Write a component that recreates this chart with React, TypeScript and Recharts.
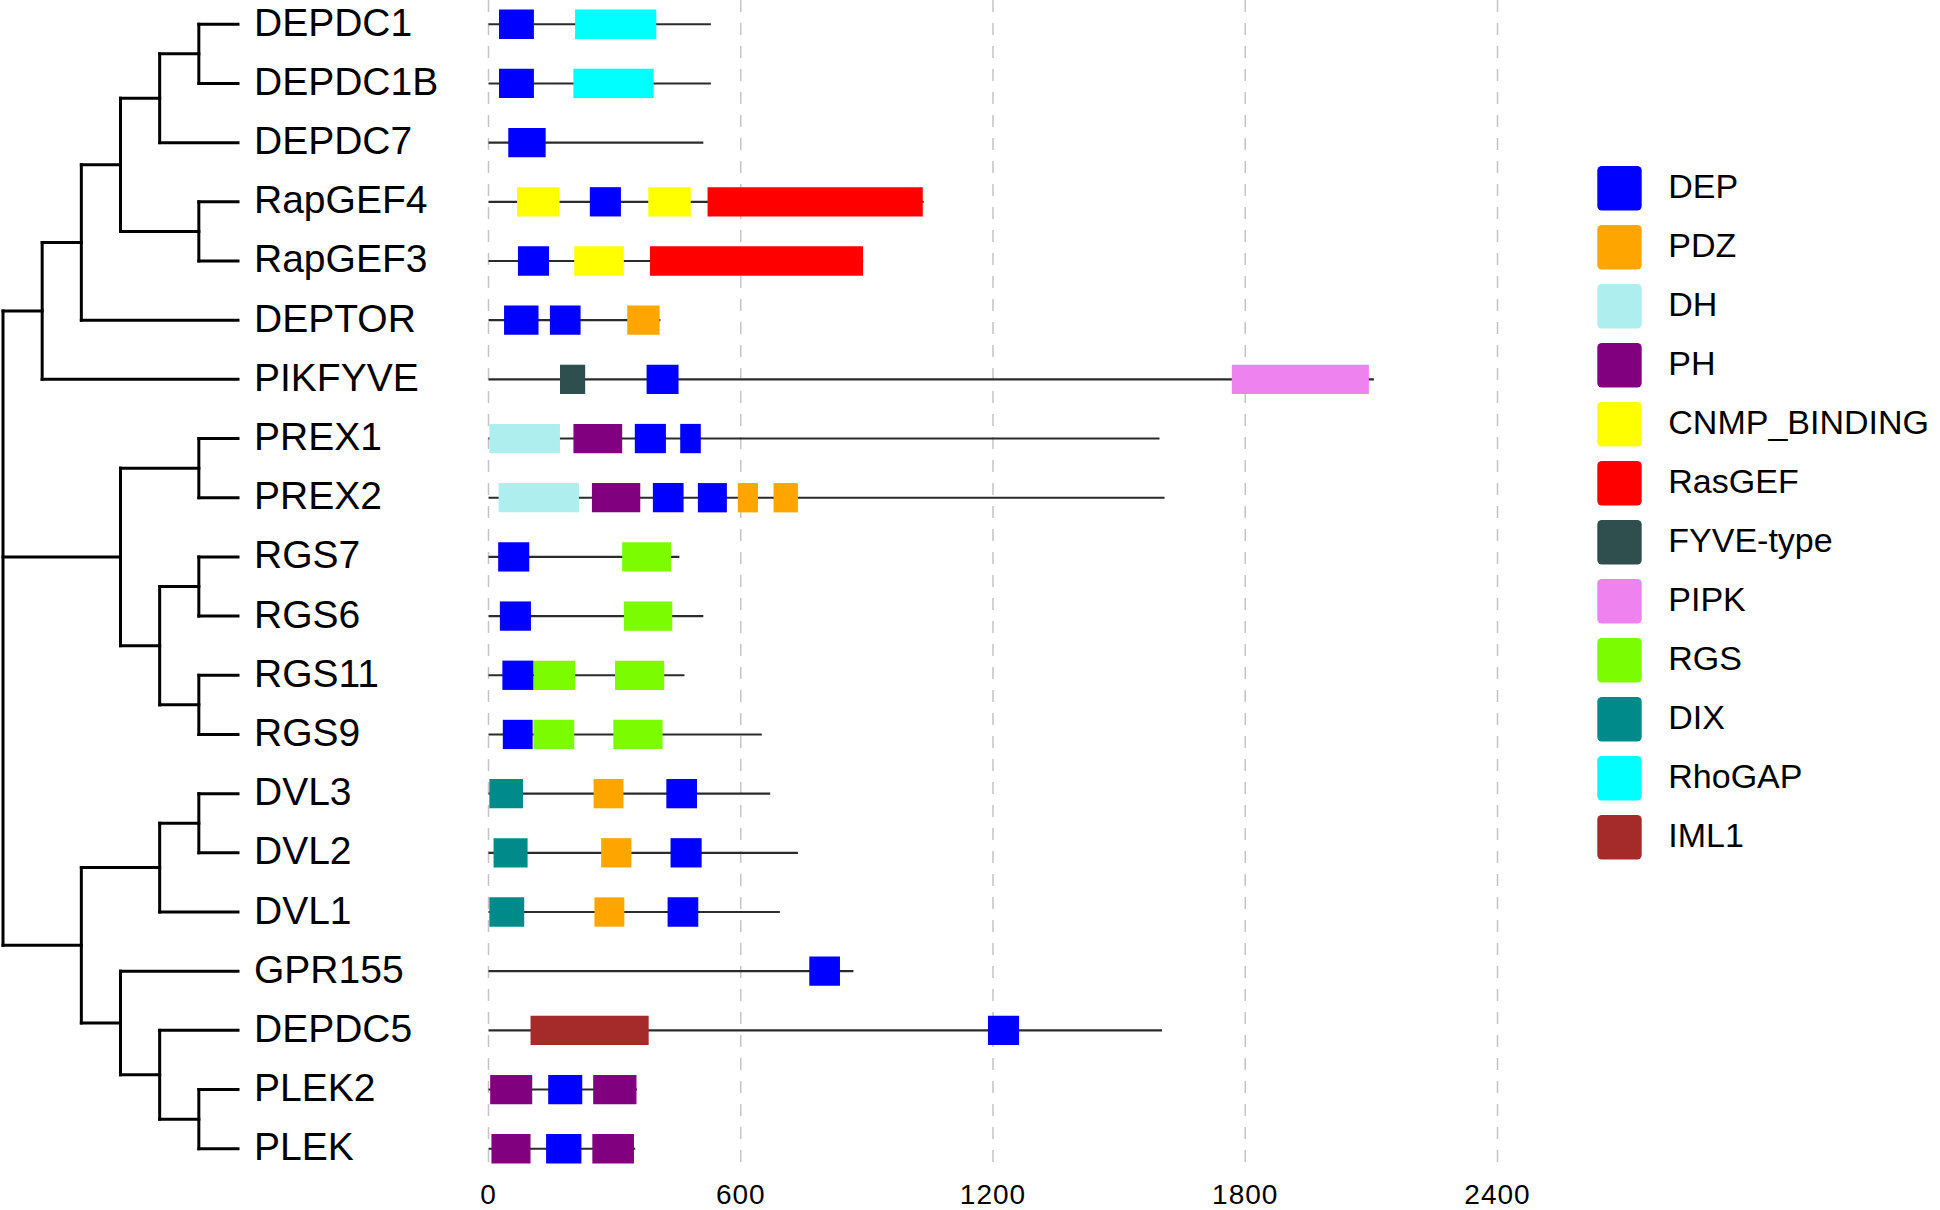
import React from 'react';
import {
  ComposedChart,
  XAxis,
  YAxis,
  CartesianGrid,
  ReferenceLine,
  ReferenceArea,
  Legend,
} from 'recharts';

// ---------------- data ----------------
const proteins = [
  'DEPDC1', 'DEPDC1B', 'DEPDC7', 'RapGEF4', 'RapGEF3', 'DEPTOR', 'PIKFYVE',
  'PREX1', 'PREX2', 'RGS7', 'RGS6', 'RGS11', 'RGS9', 'DVL3', 'DVL2', 'DVL1',
  'GPR155', 'DEPDC5', 'PLEK2', 'PLEK',
];
const proteinLengths = [
  529, 529, 511, 1035, 891, 409, 2106, 1596, 1608, 454, 511, 466, 650, 670,
  736, 693, 868, 1602, 353, 349,
];

const domainTypes = [
  'DEP', 'PDZ', 'DH', 'PH', 'CNMP_BINDING', 'RasGEF', 'FYVE-type', 'PIPK',
  'RGS', 'DIX', 'RhoGAP', 'IML1',
];
const domainColors = [
  '#0000FF', '#FFA500', '#AFEEEE', '#800080', '#FFFF00', '#FF0000', '#2F4F4F',
  '#EE82EE', '#7CFC00', '#008B8B', '#00FFFF', '#A52A2A',
];

type Dom = [string, number, number];
const depDomains: Dom[] = [
  ['DEPDC1', 25, 108], ['DEPDC1B', 25, 108], ['DEPDC7', 47, 136],
  ['RapGEF4', 241, 315], ['RapGEF3', 70, 144], ['DEPTOR', 37, 119],
  ['DEPTOR', 146, 219], ['PIKFYVE', 376, 452], ['PREX1', 348, 422],
  ['PREX1', 456, 505], ['PREX2', 391, 464], ['PREX2', 498, 567],
  ['RGS7', 23, 97], ['RGS6', 27, 101], ['RGS11', 33, 107], ['RGS9', 34, 105],
  ['DVL3', 423, 496], ['DVL2', 433, 507], ['DVL1', 426, 499],
  ['GPR155', 763, 836], ['DEPDC5', 1188, 1262], ['PLEK2', 142, 223],
  ['PLEK', 137, 221],
];
const pdzDomains: Dom[] = [
  ['DEPTOR', 330, 407], ['PREX2', 593, 641], ['PREX2', 678, 736],
  ['DVL3', 250, 321], ['DVL2', 268, 340], ['DVL1', 252, 323],
];
const dhDomains: Dom[] = [['PREX1', 2, 170], ['PREX2', 24, 215]];
const phDomains: Dom[] = [
  ['PREX1', 202, 318], ['PREX2', 246, 361], ['PLEK2', 4, 104],
  ['PLEK2', 249, 352], ['PLEK', 7, 100], ['PLEK', 247, 346],
];
const cnmpDomains: Dom[] = [
  ['RapGEF4', 68, 169], ['RapGEF4', 380, 481], ['RapGEF3', 204, 322],
];
const rasgefDomains: Dom[] = [['RapGEF4', 521, 1033], ['RapGEF3', 384, 891]];
const fyveDomains: Dom[] = [['PIKFYVE', 170, 230]];
const pipkDomains: Dom[] = [['PIKFYVE', 1768, 2094]];
const rgsDomains: Dom[] = [
  ['RGS7', 318, 434], ['RGS6', 322, 437], ['RGS11', 108, 206],
  ['RGS11', 301, 418], ['RGS9', 107, 204], ['RGS9', 297, 414],
];
const dixDomains: Dom[] = [['DVL3', 2, 82], ['DVL2', 12, 93], ['DVL1', 2, 85]];
const rhogapDomains: Dom[] = [['DEPDC1', 206, 399], ['DEPDC1B', 202, 393]];
const iml1Domains: Dom[] = [['DEPDC5', 100, 381]];

const domainLists: Dom[][] = [
  depDomains, pdzDomains, dhDomains, phDomains, cnmpDomains, rasgefDomains,
  fyveDomains, pipkDomains, rgsDomains, dixDomains, rhogapDomains, iml1Domains,
];

const xTicks = [0, 600, 1200, 1800, 2400];

// cladogram: [node id, depth, children] (children listed before parents)
const treeNodes: [string, number, string[]][] = [
  ['n6', 5, ['DEPDC1', 'DEPDC1B']],
  ['n4', 4, ['n6', 'DEPDC7']],
  ['n5', 5, ['RapGEF4', 'RapGEF3']],
  ['n3', 3, ['n4', 'n5']],
  ['n2', 2, ['n3', 'DEPTOR']],
  ['n1', 1, ['n2', 'PIKFYVE']],
  ['n8', 5, ['PREX1', 'PREX2']],
  ['n10', 5, ['RGS7', 'RGS6']],
  ['n11', 5, ['RGS11', 'RGS9']],
  ['n9', 4, ['n10', 'n11']],
  ['n7', 3, ['n8', 'n9']],
  ['n14', 5, ['DVL3', 'DVL2']],
  ['n13', 4, ['n14', 'DVL1']],
  ['n17', 5, ['PLEK2', 'PLEK']],
  ['n16', 4, ['DEPDC5', 'n17']],
  ['n15', 3, ['GPR155', 'n16']],
  ['n12', 2, ['n13', 'n15']],
  ['root', 0, ['n1', 'n7', 'n12']],
];
const LEAF_DEPTH = 6;

// ---------------- helpers ----------------
const FONT = '"Liberation Sans", Arial, Helvetica, sans-serif';
const Y_DOMAIN: [number, number] = [-0.41, 19.41];
const rowTicks = proteins.map((_, i) => i);
const BOX_HALF = 0.2475;
const LINE_HALF = 0.018;

const proteinRows = proteins.map((name, i) => ({ row: i, name, length: proteinLengths[i] }));
const treeRows = proteins.map((name, i) => ({ row: i, name, depth: LEAF_DEPTH }));

type Pt = { x: number; y: number };
function buildTreeSegments(): [Pt, Pt][] {
  const yOf: Record<string, number> = {};
  const depthOf: Record<string, number> = {};
  proteins.forEach((p, i) => {
    yOf[p] = i;
    depthOf[p] = LEAF_DEPTH;
  });
  const segs: [Pt, Pt][] = [];
  for (const [id, d, ch] of treeNodes) {
    const y0 = yOf[ch[0]];
    const y1 = yOf[ch[ch.length - 1]];
    depthOf[id] = d;
    yOf[id] = (y0 + y1) / 2;
    segs.push([{ x: d, y: y0 }, { x: d, y: y1 }]);
    ch.forEach((c) => segs.push([{ x: d, y: yOf[c] }, { x: depthOf[c], y: yOf[c] }]));
  }
  return segs;
}
const treeSegments = buildTreeSegments();

const NameTick = (props: any) => {
  const { x, y, payload } = props;
  return (
    <text x={x} y={y + 11.5} textAnchor="start" fontSize={39} fontFamily={FONT} fill="#000">
      {proteins[payload.value]}
    </text>
  );
};

const LegendContent = () => (
  <svg width={360} height={720}>
    {domainTypes.map((t, k) => (
      <g key={t}>
        <rect x={17.3} y={16 + 59 * k} width={44.4} height={44.5} rx={4.5} ry={4.5} fill={domainColors[k]} />
        <text x={88.3} y={48.3 + 59 * k} fontSize={34} fontFamily={FONT} fill="#000">
          {t}
        </text>
      </g>
    ))}
  </svg>
);

export default function App() {
  return (
    <div style={{ position: 'absolute', left: 0, top: 0, width: 1940, height: 1210, background: '#fff' }}>
      {/* tree + protein names */}
      <div style={{ position: 'absolute', left: 0, top: 0 }}>
        <ComposedChart width={488} height={1210} data={treeRows} margin={{ top: 0, right: 0, bottom: 37, left: 3 }}>
          <XAxis dataKey="depth" type="number" hide domain={[0, LEAF_DEPTH]} allowDataOverflow />
          <YAxis
            dataKey="row"
            type="number"
            orientation="right"
            width={250}
            domain={Y_DOMAIN}
            allowDataOverflow
            reversed
            ticks={rowTicks}
            interval={0}
            axisLine={false}
            tickLine={false}
            tickSize={0}
            tickMargin={16}
            tick={<NameTick />}
          />
          {treeSegments.map((s, k) => (
            <ReferenceLine
              key={k}
              segment={s}
              stroke="#000"
              strokeWidth={3}
              strokeLinecap="square"
              ifOverflow="visible"
            />
          ))}
        </ComposedChart>
      </div>
      {/* domain architecture */}
      <div style={{ position: 'absolute', left: 0, top: 0 }}>
        <ComposedChart width={1940} height={1210} data={proteinRows} margin={{ top: 0, right: 442.5, bottom: 0, left: 488.5 }}>
          <CartesianGrid horizontal={false} stroke="#c4c4c4" strokeWidth={1.5} strokeDasharray="12 11" />
          <XAxis
            dataKey="length"
            type="number"
            domain={[0, 2400]}
            allowDataOverflow
            ticks={xTicks}
            interval={0}
            height={37}
            axisLine={false}
            tickLine={false}
            tickSize={0}
            tickMargin={11}
            tick={{ fontSize: 28, fill: '#000', fontFamily: FONT, letterSpacing: 1 }}
          />
          <YAxis dataKey="row" type="number" hide width={0} domain={Y_DOMAIN} allowDataOverflow reversed />
          {proteins.map((p, i) => (
            <ReferenceArea
              key={'bb' + p}
              x1={0}
              x2={proteinLengths[i]}
              y1={i - LINE_HALF}
              y2={i + LINE_HALF}
              fill="#2b2b2b"
              fillOpacity={1}
              stroke="none"
              ifOverflow="visible"
            />
          ))}
          {domainLists.map((list, k) =>
            list.map(([p, s, e], j) => {
              const i = proteins.indexOf(p);
              return (
                <ReferenceArea
                  key={domainTypes[k] + j}
                  x1={s}
                  x2={e}
                  y1={i - BOX_HALF}
                  y2={i + BOX_HALF}
                  fill={domainColors[k]}
                  fillOpacity={1}
                  stroke="none"
                  ifOverflow="visible"
                />
              );
            })
          )}
          <Legend
            layout="vertical"
            align="center"
            verticalAlign="middle"
            wrapperStyle={{ left: 1580, top: 150, width: 360, height: 720 }}
            content={<LegendContent />}
          />
        </ComposedChart>
      </div>
    </div>
  );
}
